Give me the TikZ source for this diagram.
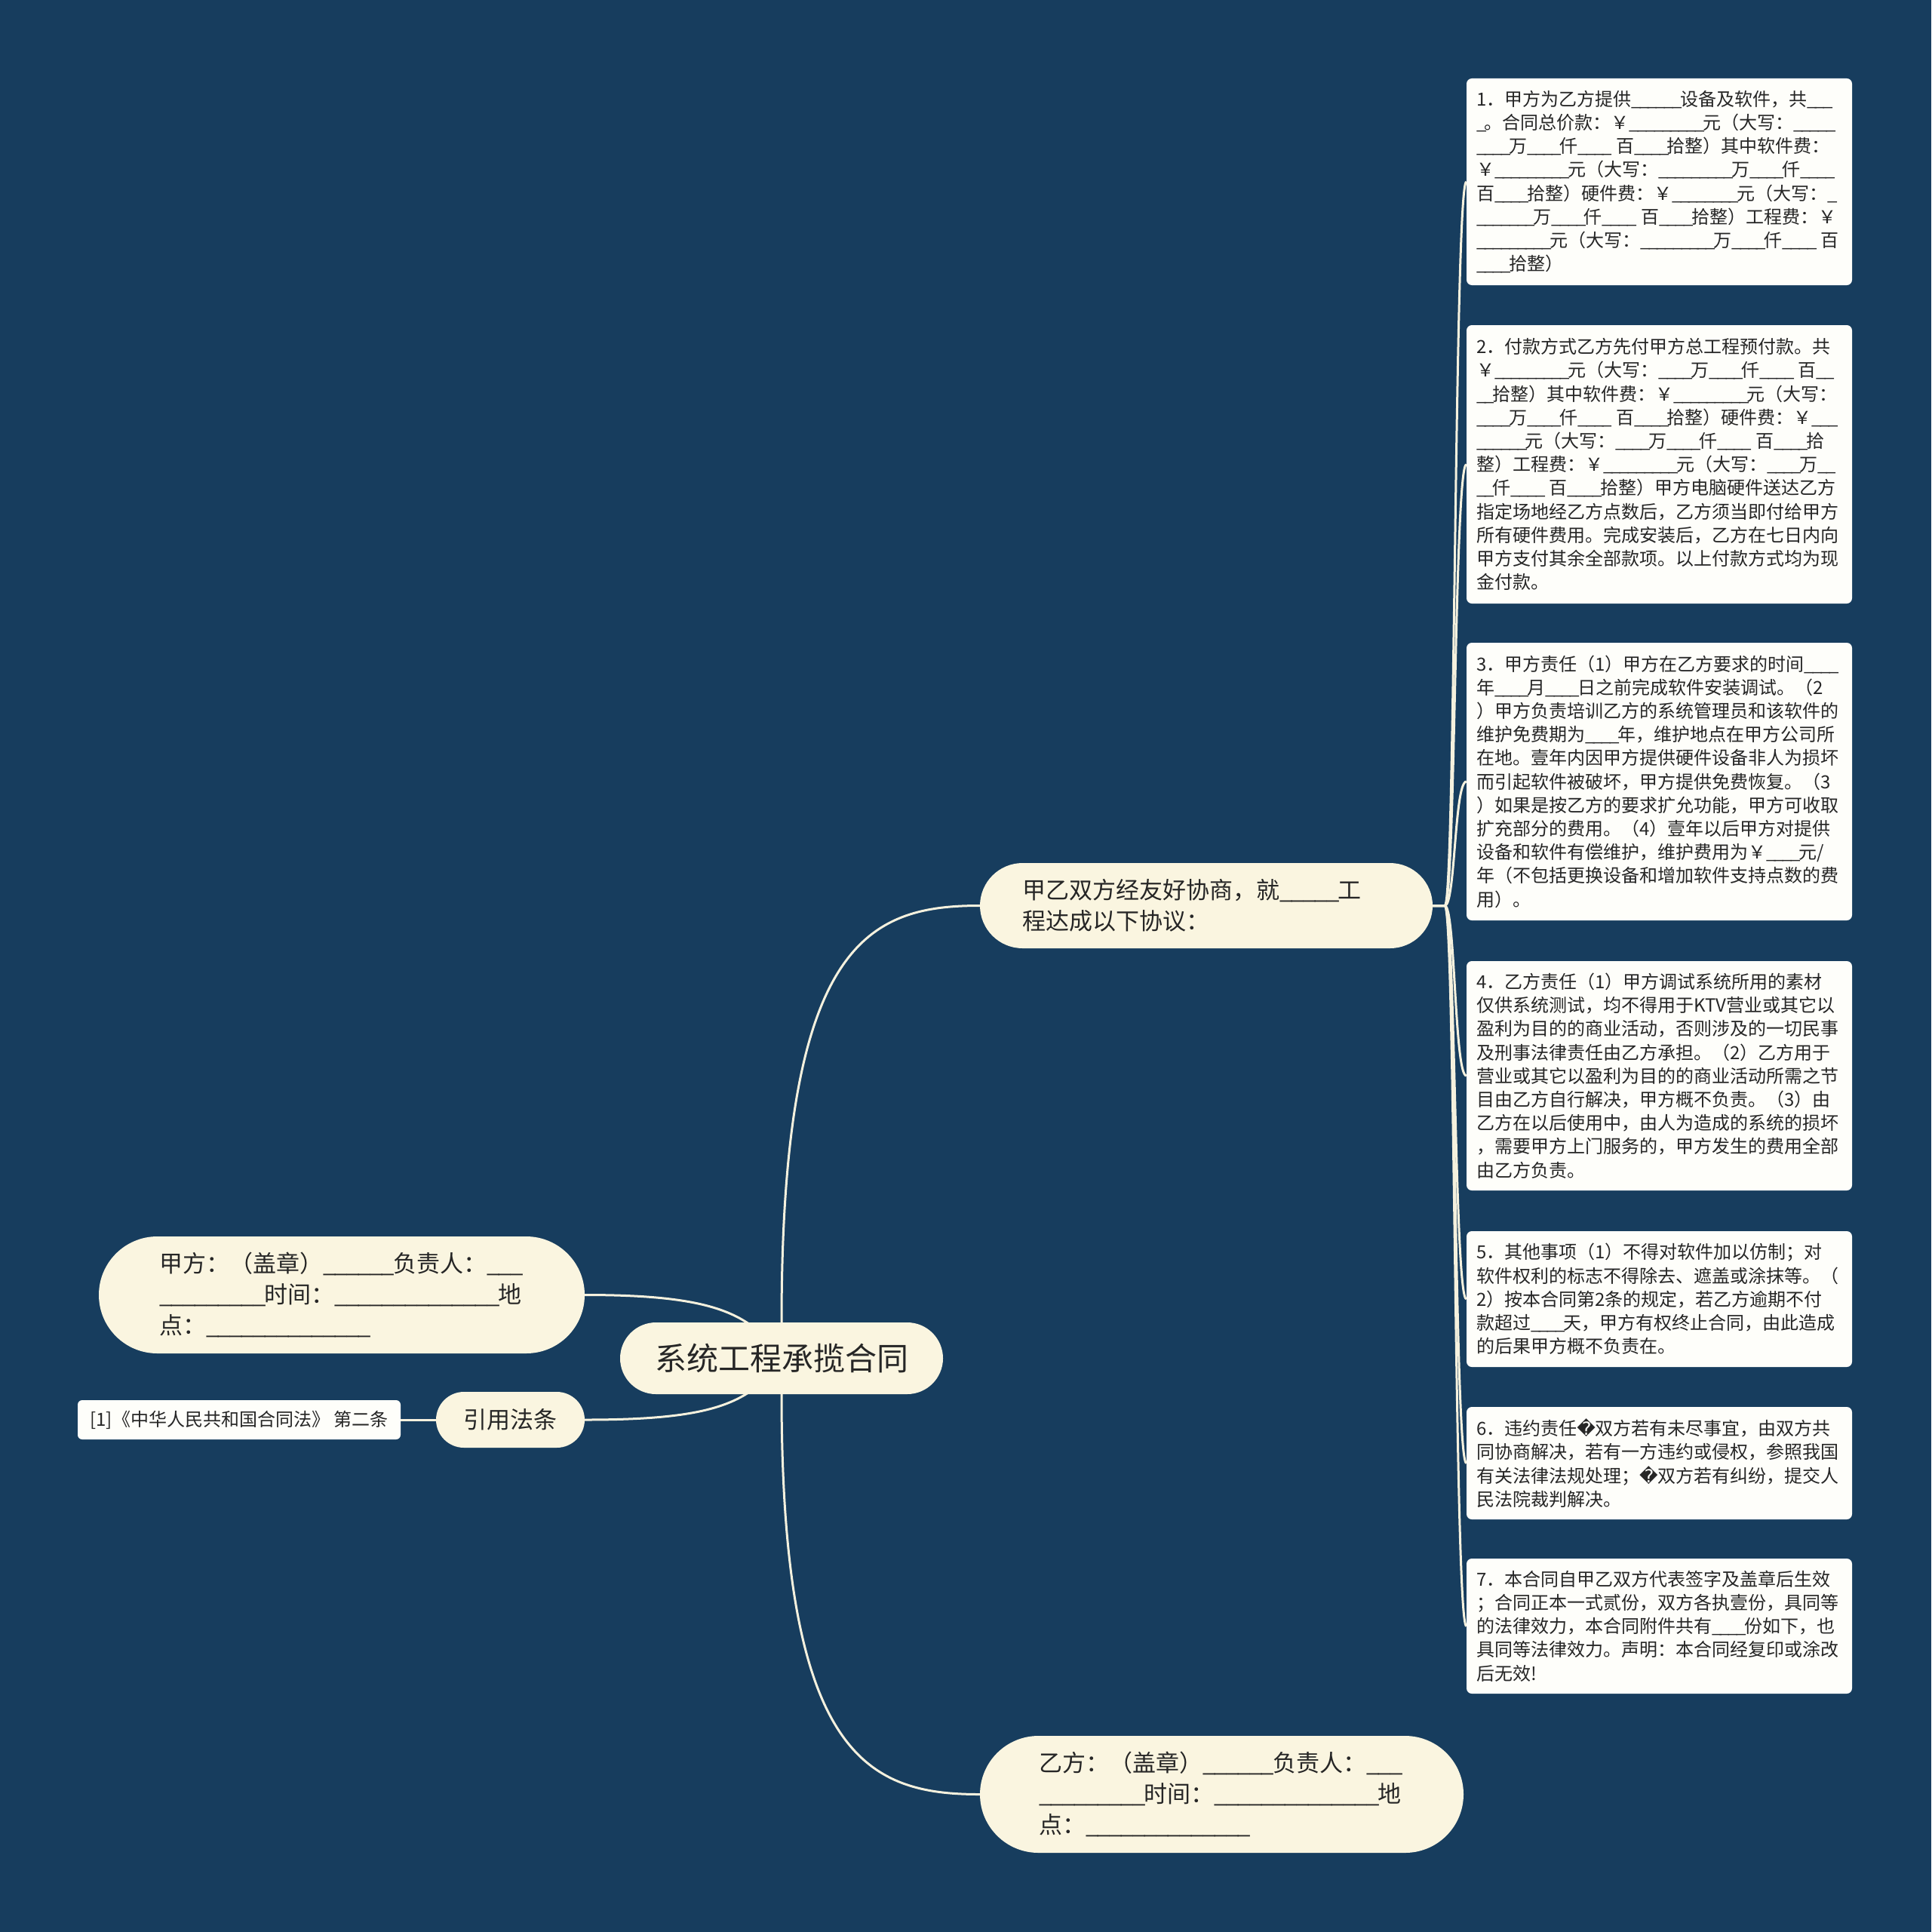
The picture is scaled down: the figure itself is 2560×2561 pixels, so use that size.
\documentclass[tikz,border=0pt]{standalone}
\usepackage{fontspec}
\setmainfont{Noto Sans CJK SC}
\newfontfamily\djv{DejaVu Sans}
\usetikzlibrary{backgrounds}
\definecolor{bgc}{HTML}{173D5E}
\definecolor{cream}{HTML}{FAF5E0}
\definecolor{boxc}{HTML}{FEFEFA}
\definecolor{linec}{HTML}{F5F1DE}
\definecolor{txt}{HTML}{262626}
\def\uswd{0.45em}
\newcommand\oneus{\makebox[\uswd][l]{\_}}
\newcommand\blk[1]{\ifnum#1>0 \oneus\expandafter\blk\expandafter{\the\numexpr#1-1\relax}\fi}
\newcommand\rep{{\djv\symbol{"FFFD}}}
\tikzset{
  conn/.style={draw=linec, line width=3pt},
  pill/.style={fill=cream, inner sep=0pt, text=txt},
  midfont/.style={font=\fontsize{31pt}{41pt}\selectfont\def\uswd{0.5em}},
  box/.style={fill=boxc, rounded corners=7pt, inner sep=0pt, text=txt, text width=485pt, minimum width=511pt, align=left, font=\fontsize{24pt}{31.2pt}\selectfont},
}
\begin{document}
\begin{tikzpicture}[x=1pt,y=-1pt]
\useasboundingbox (0,0) rectangle (2560,2561);

\node[pill, rounded corners=47.5pt, minimum width=428pt, minimum height=95pt, font=\fontsize{42pt}{50pt}\selectfont] (root) at (1036,1800.5) {系统工程承揽合同};

\node[pill, midfont, rounded corners=56.5pt, minimum width=600pt, minimum height=113pt, text width=488pt, align=left] (agree) at (1599,1200.5) {甲乙双方经友好协商，就\blk{5}工\\程达成以下协议：};

\node[pill, midfont, rounded corners=77.5pt, minimum width=644pt, minimum height=155pt, text width=484pt, align=left] (jia) at (453,1716.5) {甲方：（盖章）\blk{6}负责人：\blk{3}\\\blk{9}时间：\blk{14}地\\点：\blk{14}};

\node[pill, midfont, rounded corners=77.5pt, minimum width=641pt, minimum height=155pt, text width=485pt, align=left] (yi) at (1619.5,2378.5) {乙方：（盖章）\blk{6}负责人：\blk{3}\\\blk{9}时间：\blk{14}地\\点：\blk{14}};

\node[pill, midfont, rounded corners=37pt, minimum width=197pt, minimum height=74pt] (law) at (676.5,1882) {引用法条};

\node[fill=boxc, rounded corners=6pt, inner sep=0pt, text=txt, minimum width=428pt, minimum height=52pt, font=\fontsize{24pt}{30pt}\selectfont] (ref) at (317,1882) {[1]《中华人民共和国合同法》 第二条};

\node[box, minimum height=274pt] (b1) at (2199.5,241) {1．甲方为乙方提供\blk{6}设备及软件，共\blk{3}\\
\blk{1}。合同总价款：￥\blk{9}元（大写：\blk{5}\\
\blk{4}万\blk{4}仟\blk{4}~百\blk{4}拾整）其中软件费：\\
￥\blk{9}元（大写：\blk{9}万\blk{4}仟\blk{4}\\
百\blk{4}拾整）硬件费：￥\blk{8}元（大写：\blk{1}\\
\blk{7}万\blk{4}仟\blk{4}~百\blk{4}拾整）工程费：￥\\
\blk{9}元（大写：\blk{9}万\blk{4}仟\blk{4}~百\\
\blk{4}拾整）};

\node[box, minimum height=369pt] (b2) at (2199.5,615.5) {2．付款方式乙方先付甲方总工程预付款。共\\
￥\blk{9}元（大写：\blk{4}万\blk{4}仟\blk{4}~百\blk{2}\\
\blk{2}拾整）其中软件费：￥\blk{9}元（大写：\\
\blk{4}万\blk{4}仟\blk{4}~百\blk{4}拾整）硬件费：￥\blk{3}\\
\blk{6}元（大写：\blk{4}万\blk{4}仟\blk{4}~百\blk{4}拾\\
整）工程费：￥\blk{9}元（大写：\blk{4}万\blk{2}\\
\blk{2}仟\blk{4}~百\blk{4}拾整）甲方电脑硬件送达乙方\\
指定场地经乙方点数后，乙方须当即付给甲方\\
所有硬件费用。完成安装后，乙方在七日内向\\
甲方支付其余全部款项。以上付款方式均为现\\
金付款。};

\node[box, minimum height=368pt] (b3) at (2199.5,1036) {3．甲方责任（1）甲方在乙方要求的时间\blk{4}\\
年\blk{4}月\blk{4}日之前完成软件安装调试。（2\\
）甲方负责培训乙方的系统管理员和该软件的\\
维护免费期为\blk{4}年，维护地点在甲方公司所\\
在地。壹年内因甲方提供硬件设备非人为损坏\\
而引起软件被破坏，甲方提供免费恢复。（3\\
）如果是按乙方的要求扩允功能，甲方可收取\\
扩充部分的费用。（4）壹年以后甲方对提供\\
设备和软件有偿维护，维护费用为￥\blk{4}元/\\
年（不包括更换设备和增加软件支持点数的费\\
用）。};

\node[box, minimum height=304pt] (b4) at (2199.5,1426) {4．乙方责任（1）甲方调试系统所用的素材\\
仅供系统测试，均不得用于KTV营业或其它以\\
盈利为目的的商业活动，否则涉及的一切民事\\
及刑事法律责任由乙方承担。（2）乙方用于\\
营业或其它以盈利为目的的商业活动所需之节\\
目由乙方自行解决，甲方概不负责。（3）由\\
乙方在以后使用中，由人为造成的系统的损坏\\
，需要甲方上门服务的，甲方发生的费用全部\\
由乙方负责。};

\node[box, minimum height=180pt] (b5) at (2199.5,1722) {5．其他事项（1）不得对软件加以仿制；对\\
软件权利的标志不得除去、遮盖或涂抹等。（\\
2）按本合同第2条的规定，若乙方逾期不付\\
款超过\blk{4}天，甲方有权终止合同，由此造成\\
的后果甲方概不负责在。};

\node[box, minimum height=149pt] (b6) at (2199.5,1939.5) {6．违约责任\rep 双方若有未尽事宜，由双方共\\
同协商解决，若有一方违约或侵权，参照我国\\
有关法律法规处理；\rep 双方若有纠纷，提交人\\
民法院裁判解决。};

\node[box, minimum height=179pt] (b7) at (2199.5,2155.5) {7．本合同自甲乙双方代表签字及盖章后生效\\
；合同正本一式贰份，双方各执壹份，具同等\\
的法律效力，本合同附件共有\blk{4}份如下，也\\
具同等法律效力。声明：本合同经复印或涂改\\
后无效!};

\begin{pgfonlayer}{background}
\fill[bgc] (0,0) rectangle (2560,2561);
\draw[conn] (root.north) .. controls +(0,-503) and +(-149,0) .. (agree.west);
\draw[conn] (root.south) .. controls +(0,480) and +(-149,0) .. (yi.west);
\draw[conn] (jia.east) .. controls +(170,0) and +(-40,-60) .. (root.center);
\draw[conn] (law.east) .. controls +(170,0) and +(-40,60) .. (root.center);
\draw[conn] (law.west) -- (ref.east);
\foreach \b in {b1,b2,b3,b4,b5,b6,b7}
  \draw[conn] (agree.east) -- ++(16,0) .. controls +(14,0) and +(-16,0) .. (\b.west);
\end{pgfonlayer}
\end{tikzpicture}
\end{document}
